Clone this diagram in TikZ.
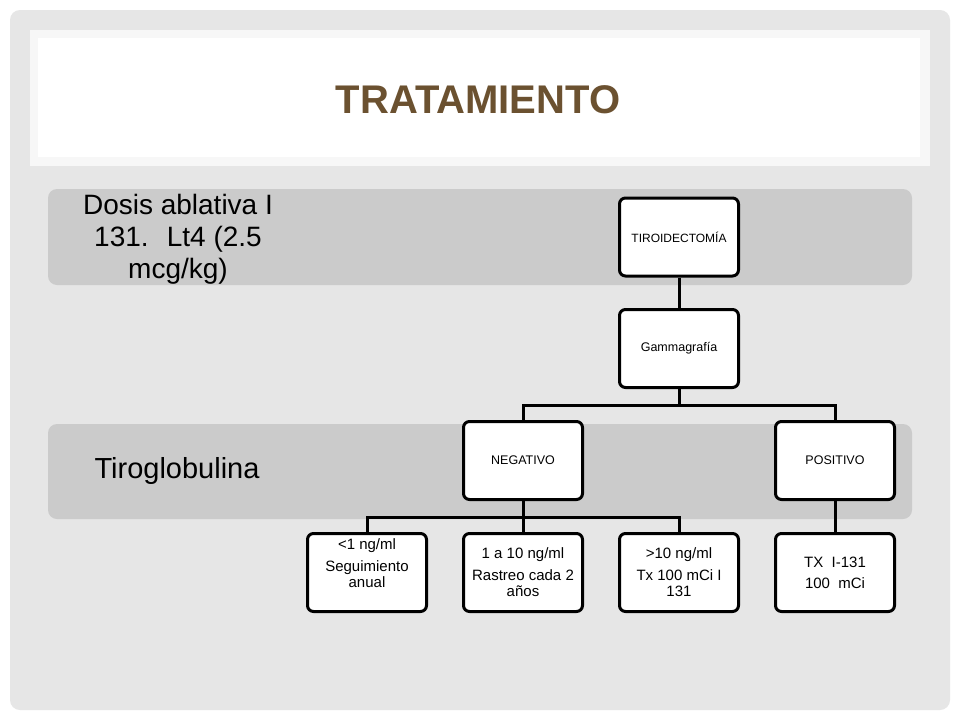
\documentclass[tikz,border=0pt]{standalone}
\usepackage{fontspec}
\setmainfont{Liberation Sans}
\usetikzlibrary{calc}
\definecolor{titlebrown}{HTML}{6B5130}
\definecolor{slidegray}{HTML}{E6E6E6}
\definecolor{bandgray}{HTML}{CBCBCB}
\tikzset{
	stepbox/.style={draw=black, line width=3pt, fill=white, rounded corners=6pt,
		minimum width=119pt, minimum height=78pt, align=center,
		font=\fontsize{15}{16}\selectfont},
	band/.style={fill=bandgray, rounded corners=9pt},
	bandtext/.style={align=center, font=\fontsize{28}{32}\selectfont},
	link/.style={line width=3pt}
}
\begin{document}
\begin{tikzpicture}[x=1pt,y=-1pt]
		%%%%% START %%%%%
		
		\useasboundingbox (0,0) rectangle (960,720);
		\fill[white] (0,0) rectangle (960,720);
		\fill[slidegray, rounded corners=10pt] (10,10) rectangle (950,710);
		
		\fill[white!97!black] (30,30) rectangle (930,166);
		\fill[white] (38,38) rectangle (920,157);
		\node[font=\fontsize{40}{40}\selectfont\bfseries, color=titlebrown] (title) at (478,100) {TRATAMIENTO};
		
		\fill[band] (48,189) rectangle (912,285);
		\fill[band] (48,424) rectangle (912,519);
		
		\node[bandtext] (dosis) at (178,239) {Dosis ablativa I\\131.~ Lt4 (2.5\\mcg/kg)};
		\node[bandtext, font=\fontsize{29}{32}\selectfont] (tiro) at (177,471) {Tiroglobulina};
		
		\node[stepbox, font=\fontsize{12}{14}\selectfont] (cirugia) at (679,237) {TIROIDECTOM\'IA};
		\node[stepbox, font=\fontsize{12.5}{14}\selectfont] (gamma) at (679,348.5) {Gammagraf\'ia};
		\node[stepbox, font=\fontsize{12.5}{14}\selectfont] (neg) at (523,460.5) {NEGATIVO};
		\node[stepbox, font=\fontsize{12.5}{14}\selectfont] (pos) at (835,460.5) {POSITIVO};
		
		\node[stepbox] (bajo) at (367,572.5) {\raisebox{4pt}[0pt][0pt]{\begin{tabular}{@{}c@{}}<1 ng/ml\\[6pt]Seguimiento\\anual\end{tabular}}};
		\node[stepbox] (medio) at (523,572.5) {1 a 10 ng/ml\\[6pt]Rastreo cada 2\\a\~nos};
		\node[stepbox] (alto) at (679,572.5) {>10 ng/ml\\[6pt]Tx 100 mCi I\\131};
		\node[stepbox] (dosisalta) at (835,572.5) {TX~ I-131\\[5pt]100~ mCi};
		
		\draw[link] (cirugia) -- (gamma);
		\draw[link] (gamma.south) -- ++(0,16) -| (neg.north);
		\draw[link] (gamma.south) -- ++(0,16) -| (pos.north);
		\draw[link] (neg.south) -- ++(0,16) -| (bajo.north);
		\draw[link] (neg.south) -- (medio.north);
		\draw[link] (neg.south) -- ++(0,16) -| (alto.north);
		\draw[link] (pos) -- (dosisalta);
		
		%%%%% END %%%%%
	\end{tikzpicture}
\end{document}
